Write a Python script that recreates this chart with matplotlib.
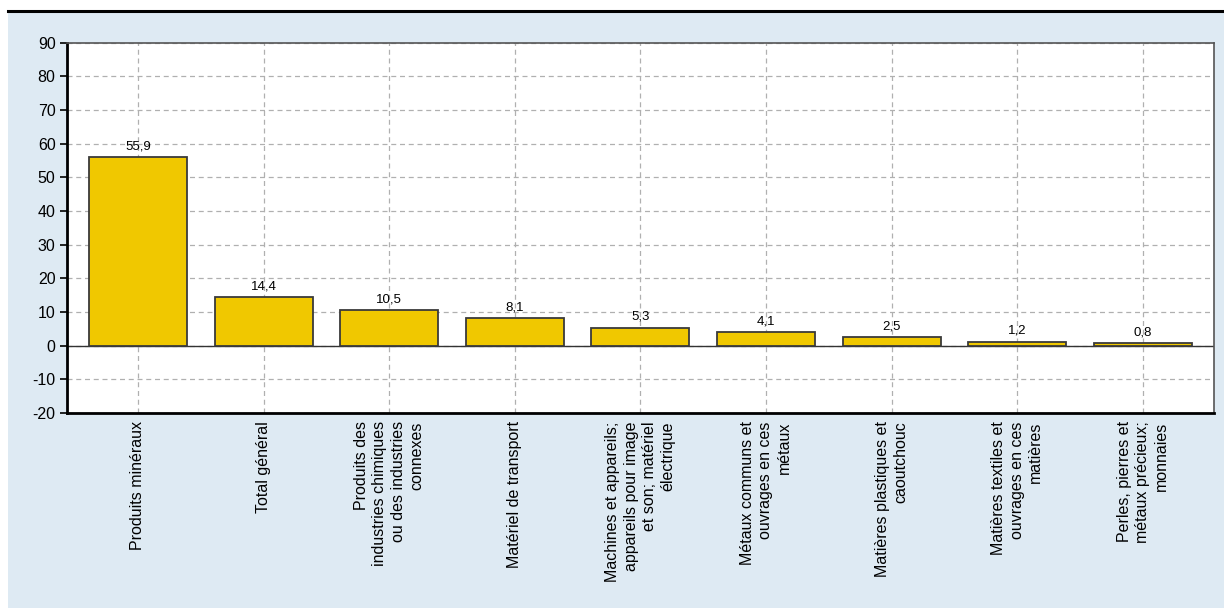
import matplotlib
matplotlib.use("Agg")
import matplotlib.pyplot as plt
from matplotlib.patches import Rectangle
from matplotlib.lines import Line2D

categories = [
    "Produits minéraux",
    "Total général",
    "Produits des\nindustries chimiques\nou des industries\nconnexes",
    "Matériel de transport",
    "Machines et appareils;\nappareils pour image\net son; matériel\nélectrique",
    "Métaux communs et\nouvrages en ces\nmétaux",
    "Matières plastiques et\ncaoutchouc",
    "Matières textiles et\nouvrages en ces\nmatières",
    "Perles, pierres et\nmétaux précieux;\nmonnaies",
]
values = [55.9, 14.4, 10.5, 8.1, 5.3, 4.1, 2.5, 1.2, 0.8]
value_labels = ["55,9", "14,4", "10,5", "8,1", "5,3", "4,1", "2,5", "1,2", "0,8"]
yticks = [-20, -10, 0, 10, 20, 30, 40, 50, 60, 70, 80, 90]

plt.rcParams['font.family'] = ['Liberation Sans', 'DejaVu Sans']

fig = plt.figure(figsize=(12.24, 6.10), dpi=100)
fig.patch.set_facecolor('white')

# light blue panel and top rule
fig.patches.append(Rectangle((8/1224, 0.003), 1 - 8/1224, 1 - 12/610 - 0.003,
                             transform=fig.transFigure, facecolor='#DEEAF3',
                             edgecolor='none', zorder=-5))
fig.lines.append(Line2D([8/1224, 1], [1 - 11/610, 1 - 11/610],
                        transform=fig.transFigure, color='black', lw=2.2, zorder=-4))

ax = fig.add_axes([66.7/1224, 1 - 413/610, (1214 - 66.7)/1224, (413 - 42.7)/610])
ax.set_zorder(1)
ax.set_facecolor('white')

x = list(range(len(categories)))
ax.bar(x, values, width=0.78, color='#F0C800', edgecolor='#3a3a3a', linewidth=1.3, zorder=3)
for xi, v, lab in zip(x, values, value_labels):
    ax.annotate(lab, (xi, v), xytext=(0, 3.5), textcoords='offset points',
                ha='center', va='bottom', fontsize=9.5, color='black', zorder=4)

ax.axhline(0, color='#333333', lw=1.0, zorder=2)
ax.set_xlim(-0.567, len(categories) - 1 + 0.567)
ax.set_ylim(-20, 90)
ax.set_yticks(yticks)
ax.set_yticklabels([str(t) for t in yticks], fontsize=11.5)
ax.set_xticks(x)
ax.set_xticklabels(categories, rotation=90, fontsize=11.5, va='top', ha='center',
                   multialignment='right', linespacing=1.3)
ax.tick_params(axis='x', length=0, pad=6)
ax.tick_params(axis='y', length=5, width=1.2, pad=3, color='black')
ax.grid(True, axis='both', linestyle=(0, (4, 3)), color='#b0b0b0', lw=0.9, zorder=0)
ax.set_axisbelow(True)

for s in ['left', 'bottom']:
    ax.spines[s].set_color('black')
    ax.spines[s].set_linewidth(2)
for s in ['top', 'right']:
    ax.spines[s].set_color('#555555')
    ax.spines[s].set_linewidth(1.2)

fig.savefig('out.png', dpi=100, facecolor=fig.get_facecolor())
